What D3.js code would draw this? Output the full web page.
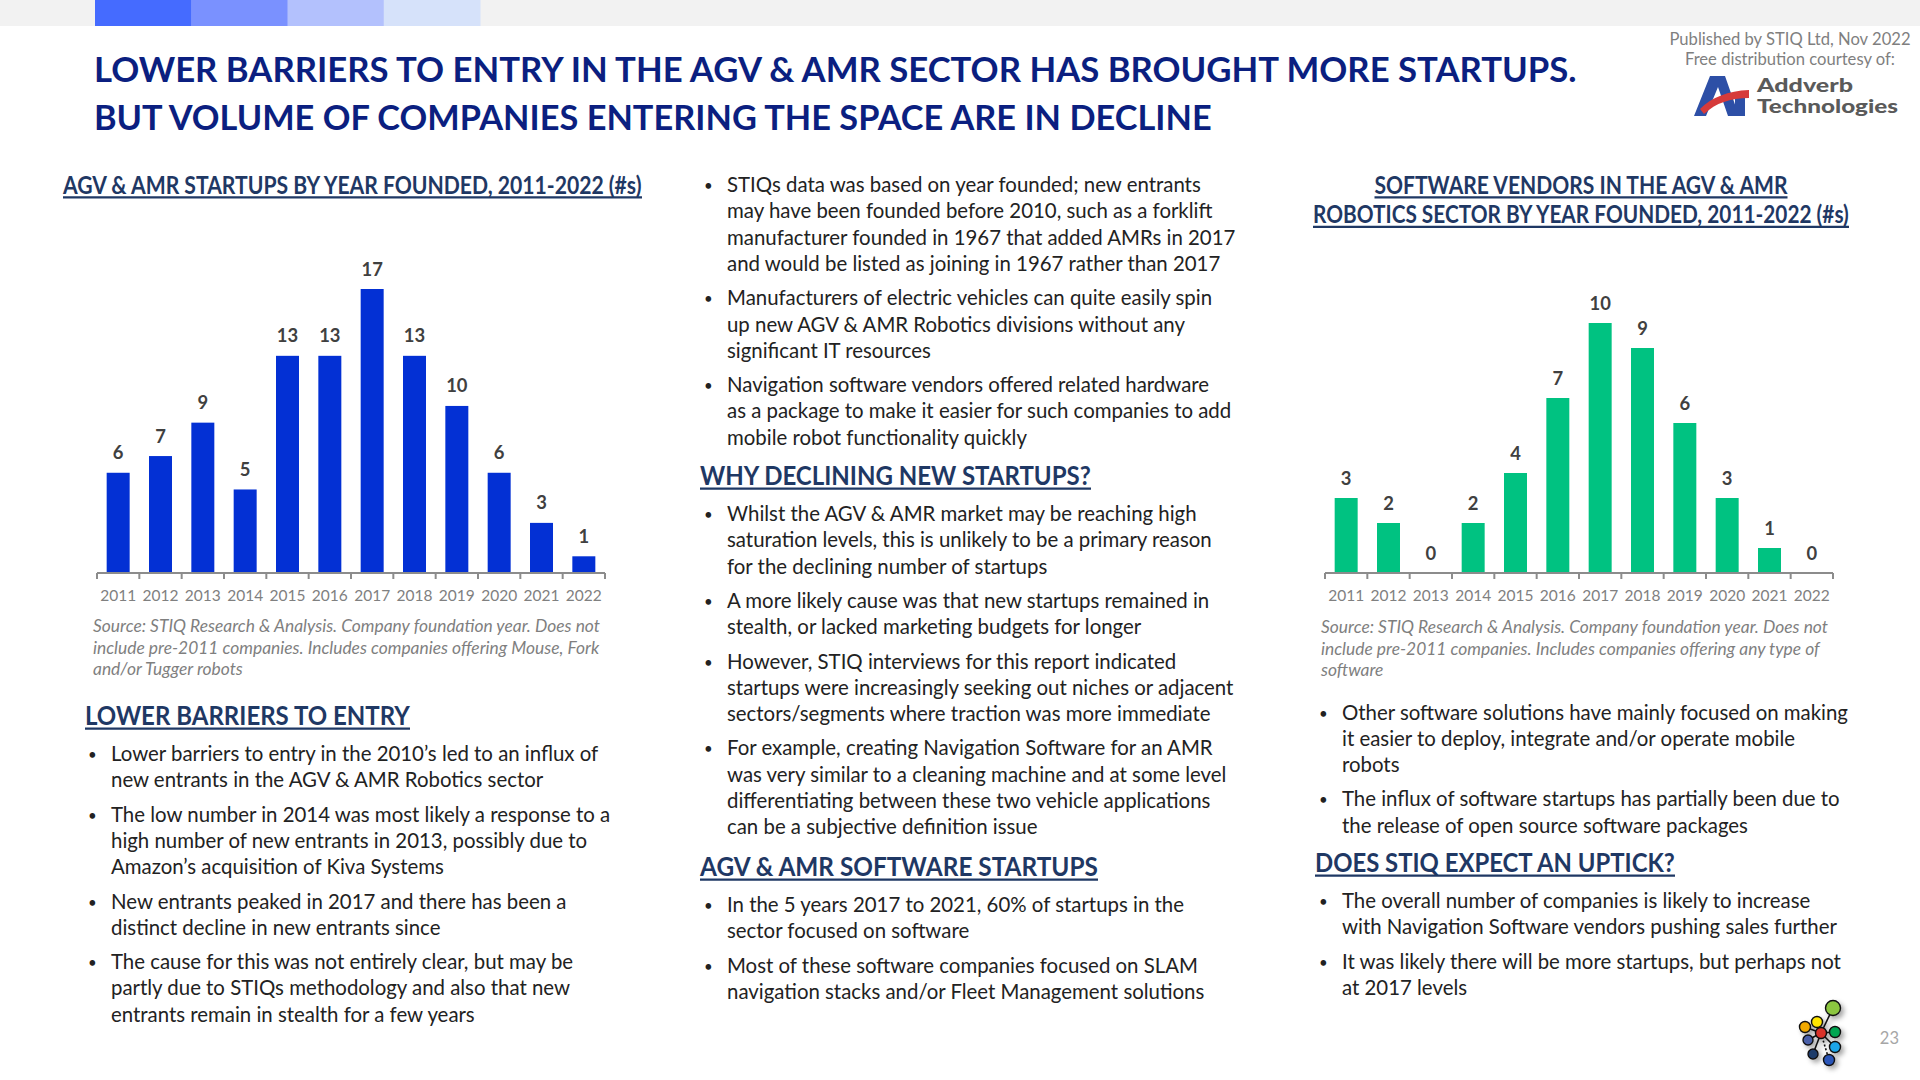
<!DOCTYPE html>
<html><head><meta charset="utf-8">
<script src="https://cdn.jsdelivr.net/npm/d3@7"></script>
<style>
html,body{margin:0;padding:0;background:#fff;}
svg{display:block;font-family:Lato,"Open Sans",sans-serif;}
</style></head><body>
<svg id="c" width="1920" height="1080"></svg>
<script>
// ---------- DATA ----------
const years = ["2011","2012","2013","2014","2015","2016","2017","2018","2019","2020","2021","2022"];
const startupsByYear = [6,7,9,5,13,13,17,13,10,6,3,1];
const softwareByYear = [3,2,0,2,4,7,10,9,6,3,1,0];

const titleLines = ["LOWER BARRIERS TO ENTRY IN THE AGV & AMR SECTOR HAS BROUGHT MORE STARTUPS.",
                    "BUT VOLUME OF COMPANIES ENTERING THE SPACE ARE IN DECLINE"];
const publisherLines = ["Published by STIQ Ltd, Nov 2022","Free distribution courtesy of:"];
const leftChartTitle = ["AGV & AMR STARTUPS BY YEAR FOUNDED, 2011-2022 (#s)"];
const rightChartTitle = ["SOFTWARE VENDORS IN THE AGV & AMR","ROBOTICS SECTOR BY YEAR FOUNDED, 2011-2022 (#s)"];
const leftSource = ["Source: STIQ Research & Analysis. Company foundation year. Does not",
                    "include pre-2011 companies. Includes companies offering Mouse, Fork",
                    "and/or Tugger robots"];
const rightSource = ["Source: STIQ Research & Analysis. Company foundation year. Does not",
                     "include pre-2011 companies. Includes companies offering any type of",
                     "software"];

const col1Heading = "LOWER BARRIERS TO ENTRY";
const col1Bullets = [
  ["Lower barriers to entry in the 2010\u2019s led to an influx of","new entrants in the AGV & AMR Robotics sector"],
  ["The low number in 2014 was most likely a response to a","high number of new entrants in 2013, possibly due to","Amazon\u2019s acquisition of Kiva Systems"],
  ["New entrants peaked in 2017 and there has been a","distinct decline in new entrants since"],
  ["The cause for this was not entirely clear, but may be","partly due to STIQs methodology and also that new","entrants remain in stealth for a few years"]
];
const col2BulletsA = [
  ["STIQs data was based on year founded; new entrants","may have been founded before 2010, such as a forklift","manufacturer founded in 1967 that added AMRs in 2017","and would be listed as joining in 1967 rather than 2017"],
  ["Manufacturers of electric vehicles can quite easily spin","up new AGV & AMR Robotics divisions without any","significant IT resources"],
  ["Navigation software vendors offered related hardware","as a package to make it easier for such companies to add","mobile robot functionality quickly"]
];
const col2HeadingB = "WHY DECLINING NEW STARTUPS?";
const col2BulletsB = [
  ["Whilst the AGV & AMR market may be reaching high","saturation levels, this is unlikely to be a primary reason","for the declining number of startups"],
  ["A more likely cause was that new startups remained in","stealth, or lacked marketing budgets for longer"],
  ["However, STIQ interviews for this report indicated","startups were increasingly seeking out niches or adjacent","sectors/segments where traction was more immediate"],
  ["For example, creating Navigation Software for an AMR","was very similar to a cleaning machine and at some level","differentiating between these two vehicle applications","can be a subjective definition issue"]
];
const col2HeadingC = "AGV & AMR SOFTWARE STARTUPS";
const col2BulletsC = [
  ["In the 5 years 2017 to 2021, 60% of startups in the","sector focused on software"],
  ["Most of these software companies focused on SLAM","navigation stacks and/or Fleet Management solutions"]
];
const col3BulletsA = [
  ["Other software solutions have mainly focused on making","it easier to deploy, integrate and/or operate mobile","robots"],
  ["The influx of software startups has partially been due to","the release of open source software packages"]
];
const col3HeadingB = "DOES STIQ EXPECT AN UPTICK?";
const col3BulletsB = [
  ["The overall number of companies is likely to increase","with Navigation Software vendors pushing sales further"],
  ["It was likely there will be more startups, but perhaps not","at 2017 levels"]
];
const pageNumber = "23";

// ---------- STYLE ----------
const NAVY = "#0B1F80", HEAD = "#1F3864", BODY = "#222222", GRAY = "#7F7F7F";
const BODY_SIZE = 20.4, LINE = 26.3, BULLET_GAP = 34.3;

const svg = d3.select("#c");

// fitted text: renders text at a font size, then scales horizontally to a target width
function fitText(parent, text, x0, yb, size, weight, fill, width){
  const g = parent.append("g");
  const t = g.append("text").attr("x",0).attr("y",0).attr("font-size",size)
    .attr("font-weight",weight).attr("fill",fill).text(text);
  const w = t.node().getComputedTextLength();
  g.attr("transform",`translate(${x0},${yb}) scale(${width/w},1)`);
  return g;
}

// top band
svg.append("rect").attr("x",0).attr("y",0).attr("width",1920).attr("height",26).attr("fill","#F2F2F2");
const bandColors = ["#456BFF","#7A91FF","#B3C1FD","#D6E2FA"];
const bandX = d3.scaleBand().domain(d3.range(4)).range([95,480]);
svg.selectAll("rect.band").data(bandColors).join("rect")
  .attr("x",(d,i)=>bandX(i)).attr("y",0).attr("width",bandX.bandwidth()+0.5).attr("height",26).attr("fill",d=>d);

// title
const titleWidths = [1483, 1118];
titleLines.forEach((t,i)=>fitText(svg, t, 94, 82+i*48, 33.8, 700, NAVY, titleWidths[i]));

// publisher
svg.selectAll("text.pub").data(publisherLines).join("text")
  .attr("x",1790).attr("y",(d,i)=>45+i*20).attr("text-anchor","middle")
  .attr("font-size",16.6).attr("fill",GRAY).text(d=>d);

// Addverb logo
const logo = svg.append("g");
logo.append("path").attr("d","M1694,116 L1710,76 L1725,76 L1739,116 L1728,116 L1718,87 L1706,116 Z").attr("fill","#2D4FA6");
logo.append("rect").attr("x",1735).attr("y",96).attr("width",10).attr("height",20).attr("fill","#2D4FA6");
logo.append("path").attr("d","M1700,109 C1712,97 1728,91 1749,90 L1749,98 C1730,98 1716,103 1704,114 Z").attr("fill","#D63A3A");
fitText(logo, "Addverb", 1757, 92, 19.5, 900, "#5A5A5A", 96);
fitText(logo, "Technologies", 1757, 113, 19.5, 900, "#5A5A5A", 141);

// ---------- helpers ----------
function heading(text, x, yc, size, width, anchor){
  const yb = yc+size*0.35;
  const x0 = anchor==="middle" ? x-width/2 : x;
  fitText(svg, text, x0, yb, size, 700, HEAD, width);
  svg.append("line").attr("x1",x0).attr("x2",x0+width).attr("y1",yb+3.5).attr("y2",yb+3.5)
    .attr("stroke",HEAD).attr("stroke-width",2.2);
}
function bullets(list, xb, xt, yStart){
  let y = yStart;
  list.forEach((lines,bi)=>{
    if(bi>0) y += BULLET_GAP - LINE;
    svg.append("text").attr("x",xb).attr("y",y+6).attr("font-size",15).attr("fill",BODY).text("\u2022");
    lines.forEach((ln)=>{
      svg.append("text").attr("x",xt).attr("y",y+7).attr("font-size",BODY_SIZE).attr("fill",BODY).text(ln);
      y += LINE;
    });
  });
}
function source(lines, x, y0){
  svg.selectAll(null).data(lines).join("text").attr("x",x).attr("y",(d,i)=>y0+i*21.6)
    .attr("font-size",17.4).attr("font-style","italic").attr("fill",GRAY).text(d=>d);
}
function barChart(values, color, x0, x1, yMaxVal, yMaxPx){
  const g = svg.append("g");
  const x = d3.scaleBand().domain(years).range([x0,x1]).paddingInner(0.457).paddingOuter(0.2285);
  const y = d3.scaleLinear().domain([0,yMaxVal]).range([573,yMaxPx]);
  const data = years.map((yr,i)=>({yr,v:values[i]}));
  g.selectAll("rect").data(data).join("rect")
    .attr("x",d=>x(d.yr)).attr("width",x.bandwidth())
    .attr("y",d=>y(d.v)).attr("height",d=>y(0)-y(d.v)).attr("fill",color);
  g.selectAll("text.val").data(data).join("text").attr("class","val")
    .attr("x",d=>x(d.yr)+x.bandwidth()/2).attr("y",d=>y(d.v)-13.5)
    .attr("text-anchor","middle").attr("font-size",18.4).attr("font-weight",700).attr("fill","#404040")
    .text(d=>d.v);
  const ax = g.append("g").attr("transform",`translate(0,${y(0)})`)
    .call(d3.axisBottom(x).tickSize(0).tickPadding(17));
  ax.select(".domain").remove();
  ax.selectAll("text").attr("font-family","Lato").attr("font-size",15.5).attr("fill","#808080");
  const step = x.step();
  g.selectAll("line.tk").data(d3.range(years.length+1)).join("line")
    .attr("x1",i=>x0+i*step).attr("x2",i=>x0+i*step).attr("y1",y(0)).attr("y2",y(0)+6)
    .attr("stroke","#8C8C8C").attr("stroke-width",2);
  g.append("line").attr("x1",x0).attr("x2",x1).attr("y1",y(0)).attr("y2",y(0)).attr("stroke","#8C8C8C").attr("stroke-width",2);
}

// ---------- left chart ----------
heading(leftChartTitle[0], 63, 185, 25.5, 579);
barChart(startupsByYear, "#0330D4", 97, 605, 17, 289);
source(leftSource, 93, 632);

// ---------- right chart ----------
const rightTitleWidths = [413, 536];
rightChartTitle.forEach((t,i)=>heading(t, 1581, 185+i*29.5, 25.5, rightTitleWidths[i], "middle"));
barChart(softwareByYear, "#00C281", 1325, 1833, 10, 323);
source(rightSource, 1321, 633);

// ---------- text columns ----------
heading(col1Heading, 85, 716, 26, 325);
bullets(col1Bullets, 88, 111, 754);

bullets(col2BulletsA, 704, 727, 185);
heading(col2HeadingB, 700, 476, 26, 391);
bullets(col2BulletsB, 704, 727, 514);
heading(col2HeadingC, 700, 867, 26, 398);
bullets(col2BulletsC, 704, 727, 905);

bullets(col3BulletsA, 1319, 1342, 712.5);
heading(col3HeadingB, 1315, 863, 26, 360);
bullets(col3BulletsB, 1319, 1342, 901);

// page number
svg.append("text").attr("x",1899).attr("y",1044).attr("text-anchor","end").attr("font-size",16.5).attr("fill","#A6A6A6").text(pageNumber);

// network logo (decorative)
const defs = svg.append("defs");
const f = defs.append("filter").attr("id","sh").attr("x","-50%").attr("y","-50%").attr("width","200%").attr("height","200%");
f.append("feDropShadow").attr("dx",3).attr("dy",3).attr("stdDeviation",2.5).attr("flood-color","#000").attr("flood-opacity",0.35);
const nodes = [
  {x:1833,y:1008,r:7.5,c:"#8CC63F"},{x:1817,y:1022,r:5.5,c:"#FFE600"},{x:1805,y:1027,r:5.5,c:"#F0A800"},
  {x:1821,y:1033,r:5.5,c:"#D9302C"},{x:1835,y:1032,r:5.5,c:"#00A651"},{x:1808,y:1040,r:5,c:"#4A5FA8"},
  {x:1835,y:1047,r:5.5,c:"#1EA5E8"},{x:1813,y:1054,r:5,c:"#1F3A6B"},{x:1829,y:1060,r:5.5,c:"#2A55B8"}
];
const links = [[3,0],[3,1],[3,2],[3,4],[3,5],[3,6],[3,7],[3,8]];
const lg = svg.append("g").attr("filter","url(#sh)");
lg.selectAll("line").data(links).join("line")
  .attr("x1",d=>nodes[d[0]].x).attr("y1",d=>nodes[d[0]].y).attr("x2",d=>nodes[d[1]].x).attr("y2",d=>nodes[d[1]].y)
  .attr("stroke","#111").attr("stroke-width",1.6).attr("stroke-dasharray",(d,i)=>i===7?"2,2":null);
lg.selectAll("circle").data(nodes).join("circle")
  .attr("cx",d=>d.x).attr("cy",d=>d.y).attr("r",d=>d.r).attr("fill",d=>d.c).attr("stroke","#111").attr("stroke-width",1.4);
</script>
</body></html>
